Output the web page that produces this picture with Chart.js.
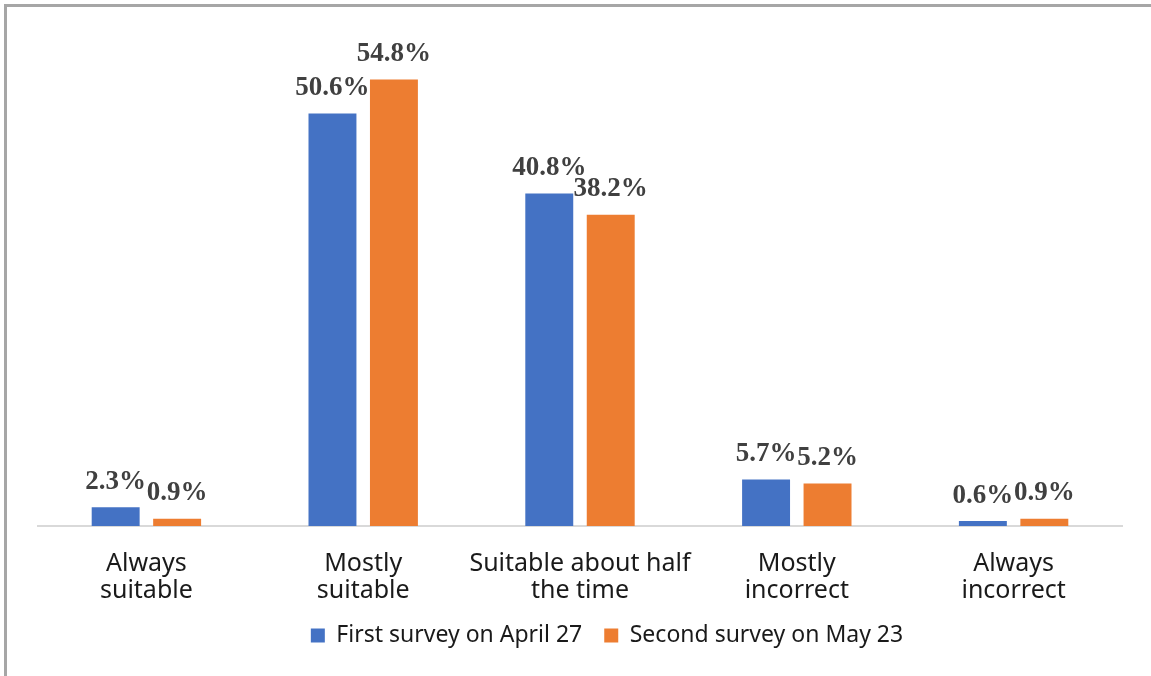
<!DOCTYPE html>
<html>
<head>
<meta charset="utf-8">
<script src="https://cdn.jsdelivr.net/npm/chart.js@4/dist/chart.umd.min.js"></script>
<style>
    html, body { margin: 0; padding: 0; background: #fff; }
    .frame {
        position: absolute;
        left: 4px;
        top: 4px;
        width: 1147px;
        height: 672px;
        border-top: 3px solid #a6a6a6;
        border-left: 3px solid #a6a6a6;
    }
    .holder { position: absolute; left: 0; top: 0; width: 1151px; height: 676px; }
</style>
</head>
<body>
<div class="frame"></div>
<div class="holder"><canvas id="chart"></canvas></div>
<script>
const categories = [
    ['Always', 'suitable'],
    ['Mostly', 'suitable'],
    ['Suitable about half', 'the time'],
    ['Mostly', 'incorrect'],
    ['Always', 'incorrect']
];
const seriesNames = ['First survey on April 27', 'Second survey on May 23'];
const firstSurvey = [2.3, 50.6, 40.8, 5.7, 0.6];
const secondSurvey = [0.9, 54.8, 38.2, 5.2, 0.9];

// value labels above each bar, serif bold like the original
const valueLabels = {
    id: 'valueLabels',
    afterDatasetsDraw(chart) {
        const ctx = chart.ctx;
        ctx.save();
        ctx.font = 'bold 27px "Liberation Serif", "Times New Roman", serif';
        ctx.fillStyle = '#404040';
        ctx.textAlign = 'center';
        ctx.textBaseline = 'bottom';
        chart.data.datasets.forEach((ds, i) => {
            chart.getDatasetMeta(i).data.forEach((bar, j) => {
                ctx.fillText(ds.data[j].toFixed(1) + '%', bar.x, bar.y - 12);
            });
        });
        ctx.restore();
    }
};

// legend in the original sits a bit right of the plot centre
const legendNudge = {
    id: 'legendNudge',
    afterLayout(chart) {
        chart.legend.left += 27;
        chart.legend.right += 27;
    }
};

const config = {
    type: 'bar',
    data: {
        labels: categories,
        datasets: [
            {
                label: seriesNames[0],
                data: firstSurvey,
                backgroundColor: '#4472c4',
                barPercentage: 0.78,
                categoryPercentage: 0.567
            },
            {
                label: seriesNames[1],
                data: secondSurvey,
                backgroundColor: '#ed7d31',
                barPercentage: 0.78,
                categoryPercentage: 0.567
            }
        ]
    },
    options: {
        responsive: true,
        maintainAspectRatio: false,
        animation: false,
        layout: {
            padding: { left: 38, right: 29, top: 37, bottom: 19 }
        },
        plugins: {
            legend: {
                position: 'bottom',
                labels: {
                    boxWidth: 14,
                    boxHeight: 14,
                    padding: 22,
                    color: '#1a1a1a',
                    font: { family: '"Noto Sans", sans-serif', size: 23 }
                }
            },
            tooltip: { enabled: false }
        },
        scales: {
            x: {
                grid: { display: false },
                border: { color: '#d9d9d9', width: 2 },
                ticks: {
                    color: '#1a1a1a',
                    padding: 16,
                    maxRotation: 0,
                    autoSkip: false,
                    font: { family: '"Noto Sans", sans-serif', size: 25, lineHeight: 1.08 }
                },
                // squeeze the axis box so the legend sits close under the labels
                afterFit(scale) {
                    scale.height = 76;
                }
            },
            y: {
                display: false,
                min: 0,
                max: 60
            }
        }
    },
    plugins: [valueLabels, legendNudge]
};

new Chart(document.getElementById('chart').getContext('2d'), config);
</script>
</body>
</html>
